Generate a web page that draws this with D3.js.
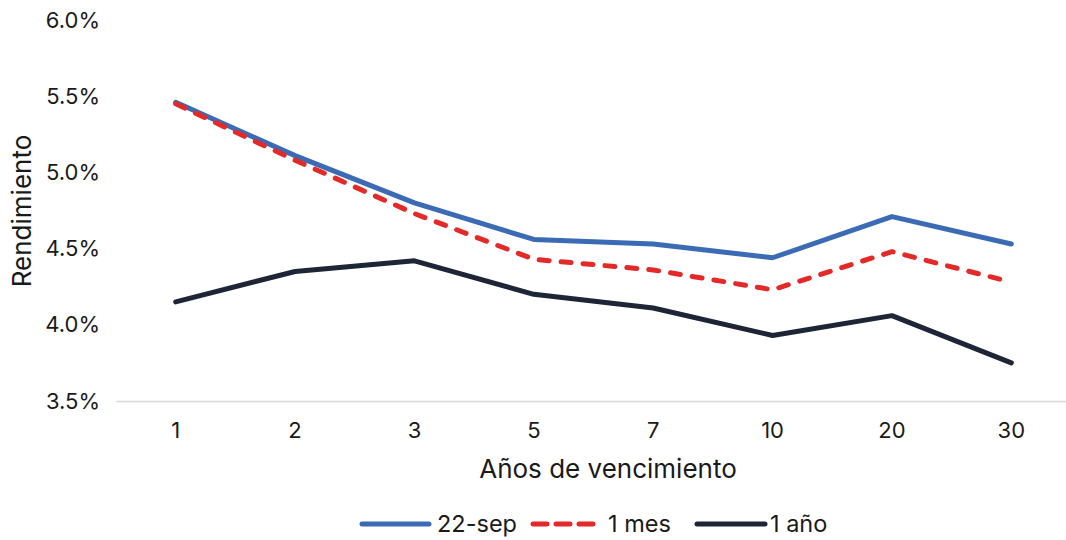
<!DOCTYPE html>
<html><head><meta charset="utf-8">
<script src="https://cdn.jsdelivr.net/npm/d3@7"></script>
<style>body{margin:0;background:#fff;}svg{display:block;font-family:Inter,"Noto Sans",sans-serif;}</style>
</head><body><svg id="c" width="1066" height="540"></svg>
<script>
const categories = ["1","2","3","5","7","10","20","30"];
const sep22 = [5.46,5.11,4.80,4.56,4.53,4.44,4.71,4.53];
const mes1 = [5.45,5.08,4.73,4.43,4.36,4.23,4.48,4.28];
const ano1 = [4.15,4.35,4.42,4.20,4.11,3.93,4.06,3.75];
const yTicks = [3.5,4.0,4.5,5.0,5.5,6.0];
const seriesNames = ["22-sep","1 mes","1 año"];

const series = [
  {name: seriesNames[0], values: sep22, color: "#3a6bb4", dash: null},
  {name: seriesNames[1], values: mes1, color: "#e32a28", dash: "10,12"},
  {name: seriesNames[2], values: ano1, color: "#1d2536", dash: null}
];

const svg = d3.select("#c");
const x = d3.scaleBand().domain(categories).range([116, 1071]);
const y = d3.scaleLinear().domain([3.5, 6.0]).range([401, 20]);

// y axis labels
const ya = svg.append("g").attr("transform","translate(100,0)")
  .call(d3.axisLeft(y).tickValues(yTicks).tickSize(0).tickPadding(0).tickFormat(d => d.toFixed(1) + "%"));
ya.select(".domain").remove();
ya.selectAll("text").attr("font-size", 22).attr("fill", "#1a1a1a").attr("font-family","Inter");

// x axis
const xa = svg.append("g").attr("transform","translate(0,401)")
  .call(d3.axisBottom(x).tickSize(0).tickPadding(21));
xa.select(".domain").attr("stroke","#d9d9d9").attr("stroke-width",1.5);
xa.selectAll("text").attr("font-size", 22).attr("fill", "#1a1a1a").attr("font-family","Inter");

// titles
svg.append("text").attr("x", 608).attr("y", 478).attr("text-anchor","middle")
  .attr("font-size", 26).attr("fill","#1a1a1a").text("Años de vencimiento");
svg.append("text").attr("transform","translate(31,211) rotate(-90)").attr("text-anchor","middle")
  .attr("font-size", 26).attr("fill","#1a1a1a").text("Rendimiento");

const line = d3.line().x((d,i) => x(categories[i]) + x.bandwidth()/2).y(d => y(d));
series.forEach(s => {
  svg.append("path").datum(s.values).attr("d", line)
    .attr("fill","none").attr("stroke", s.color).attr("stroke-width", 5)
    .attr("stroke-linecap","round").attr("stroke-linejoin","round")
    .attr("stroke-dasharray", s.dash);
});

// legend
const legendLine = [[362,429],[533,594],[697,765]];
const legendText = [437, 608, 770];
series.forEach((s, i) => {
  svg.append("line").attr("x1",legendLine[i][0]).attr("x2",legendLine[i][1]).attr("y1",524).attr("y2",524)
    .attr("stroke", s.color).attr("stroke-width", 5).attr("stroke-linecap","round")
    .attr("stroke-dasharray", s.dash ? "14,9" : null);
  svg.append("text").attr("x", legendText[i]).attr("y", 524).attr("dy","0.35em")
    .attr("font-size", 23.5).attr("fill","#1a1a1a").text(s.name);
});
</script></body></html>
